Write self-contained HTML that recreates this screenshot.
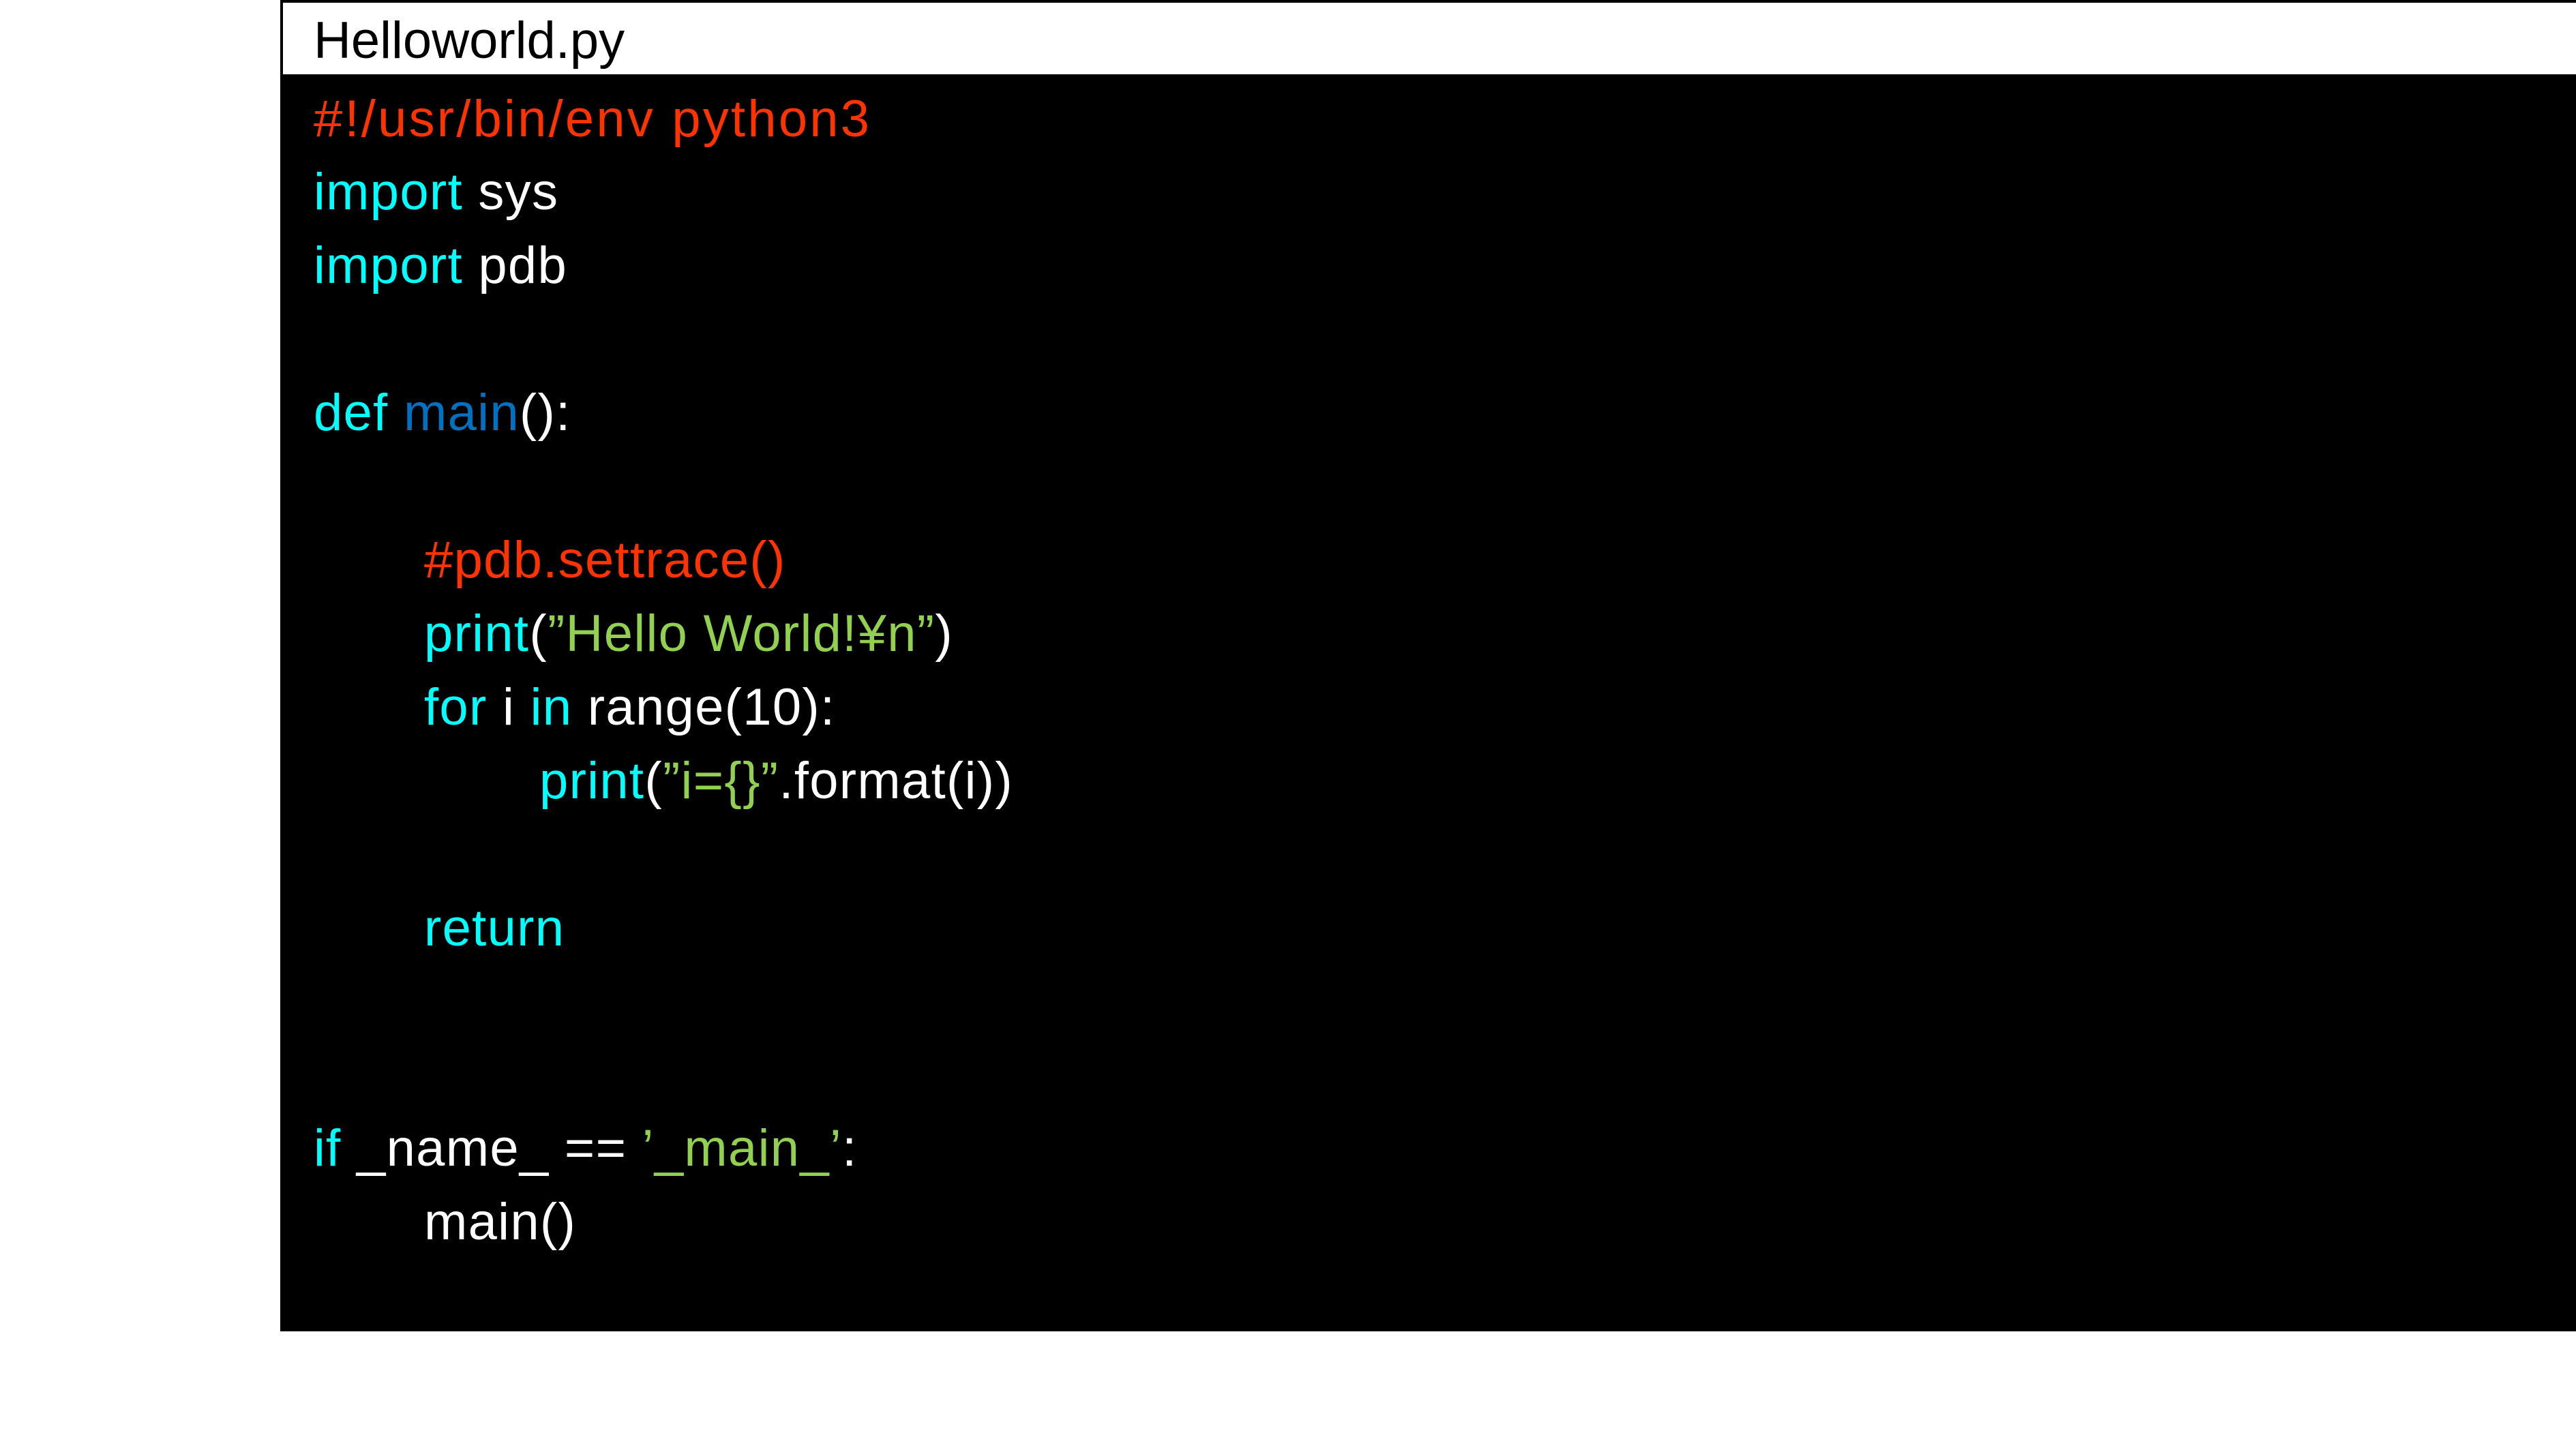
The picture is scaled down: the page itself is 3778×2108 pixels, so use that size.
<!DOCTYPE html>
<html><head><meta charset="utf-8"><style>
html,body{margin:0;padding:0;background:#fff;width:3778px;height:2108px;overflow:hidden;position:relative}
#hdr{position:absolute;left:411px;top:0;width:3400px;height:113px;background:#fff;border:4px solid #000;box-sizing:border-box}
#code{position:absolute;left:411px;top:113px;width:3367px;height:1840px;background:#000}
.t{position:absolute;font-family:"Liberation Sans","Noto Sans CJK JP",sans-serif;font-size:76px;line-height:1;white-space:pre;color:#fff;letter-spacing:1.3px}
.r{color:#ff3300}.c{color:#00ffff}.b{color:#0070c0}.g{color:#92d050}
</style></head><body>
<div id="hdr"></div>
<div id="code"></div>
<div class="t" style="left:460px;top:22px;color:#000;letter-spacing:0">Helloworld.py</div>
<div class="t r" style="left:460px;top:137px;letter-spacing:3.2px">#!/usr/bin/env python3</div>
<div class="t" style="left:460px;top:244px"><span class="c">import</span> sys</div>
<div class="t" style="left:460px;top:352px"><span class="c">import</span> pdb</div>
<div class="t" style="left:460px;top:568px"><span class="c">def</span> <span class="b">main</span>():</div>
<div class="t r" style="left:622px;top:784px">#pdb.settrace()</div>
<div class="t" style="left:622px;top:892px"><span class="c">print</span>(<span class="g">”Hello World!¥n”</span>)</div>
<div class="t" style="left:622px;top:1000px"><span class="c">for</span> i <span class="c">in</span> range(10):</div>
<div class="t" style="left:791px;top:1108px"><span class="c">print</span>(<span class="g">”i={}”</span>.format(i))</div>
<div class="t c" style="left:622px;top:1324px">return</div>
<div class="t" style="left:460px;top:1647px"><span class="c">if</span> _name_ == <span class="g">’_main_’</span>:</div>
<div class="t" style="left:622px;top:1755px">main()</div>
</body></html>
